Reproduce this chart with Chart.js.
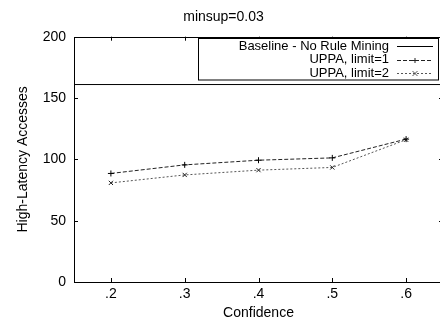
<!DOCTYPE html>
<html>
<head>
<meta charset="utf-8">
<script src="https://cdn.jsdelivr.net/npm/chart.js@4.4.1/dist/chart.umd.min.js"></script>
<style>
    html, body { margin: 0; padding: 0; background: #fff; overflow: hidden; }
    #wrap { width: 448px; height: 322px; }
</style>
</head>
<body>
<div id="wrap"><canvas id="chart" width="448" height="322"></canvas></div>
<script>
// data
const confidence = [0.2, 0.3, 0.4, 0.5, 0.6];
const xTickLabels = ['.2', '.3', '.4', '.5', '.6'];
const yTicks = [0, 50, 100, 150, 200];
const baselineValue = 161;
const limit1 = [88.5, 95.5, 99.3, 101.2, 116.5];
const limit2 = [80.8, 87.3, 91.2, 93.4, 116];

const xMin = 0.15, xMax = 0.65;
const FONT = "'Liberation Sans', Arial, sans-serif";

function pts(ys) {
    return confidence.map((c, i) => ({ x: c, y: ys[i] }));
}

// gnuplot-like frame, inward ticks and key box
const frame = {
    id: 'frame',
    afterDatasetsDraw(chart) {
        const ctx = chart.ctx;
        const a = chart.chartArea;
        const xs = chart.scales.x, ys = chart.scales.y;
        ctx.save();
        ctx.strokeStyle = '#000';
        ctx.lineWidth = 1;
        ctx.beginPath();
        ctx.rect(Math.round(a.left) + 0.5, Math.round(a.top) + 0.5, Math.round(a.right - a.left), Math.round(a.bottom - a.top));
        ctx.stroke();

        ctx.beginPath();
        confidence.forEach(v => {
            const px = Math.round(xs.getPixelForValue(v)) + 0.5;
            ctx.moveTo(px, a.bottom); ctx.lineTo(px, a.bottom - 4);
            ctx.moveTo(px, a.top); ctx.lineTo(px, a.top + 4);
        });
        yTicks.forEach(v => {
            const py = Math.round(ys.getPixelForValue(v)) + 0.5;
            ctx.moveTo(a.left, py); ctx.lineTo(a.left + 4, py);
            ctx.moveTo(a.right, py); ctx.lineTo(a.right - 4, py);
        });
        ctx.stroke();

        // key
        const bx = 198.5, by = 38.5, bw = 240, bh = 41.5;
        ctx.fillStyle = '#fff';
        ctx.fillRect(bx, by, bw, bh);
        ctx.strokeRect(bx, by, bw, bh);
        ctx.font = '13px ' + FONT;
        ctx.textAlign = 'right';
        ctx.textBaseline = 'middle';
        chart.data.datasets.forEach((ds, i) => {
            const y = 46 + i * 13.7;
            ctx.fillStyle = '#000';
            ctx.fillText(ds.label, 389, y);
            ctx.strokeStyle = ds.borderColor;
            ctx.setLineDash(ds.borderDash || []);
            ctx.beginPath();
            ctx.moveTo(397, Math.round(y) + 0.5);
            ctx.lineTo(433, Math.round(y) + 0.5);
            ctx.stroke();
            ctx.setLineDash([]);
            if (ds.pointRadius > 0) {
                const cx = 415, cy = Math.round(y) + 0.5, r = 2.5;
                ctx.beginPath();
                if (ds.pointStyle === 'cross') {
                    ctx.moveTo(cx - r, cy); ctx.lineTo(cx + r, cy);
                    ctx.moveTo(cx, cy - r); ctx.lineTo(cx, cy + r);
                } else {
                    ctx.moveTo(cx - r, cy - r); ctx.lineTo(cx + r, cy + r);
                    ctx.moveTo(cx - r, cy + r); ctx.lineTo(cx + r, cy - r);
                }
                ctx.stroke();
            }
        });
        ctx.restore();
    }
};

new Chart(document.getElementById('chart').getContext('2d'), {
    type: 'line',
    data: {
        datasets: [
            {
                label: 'Baseline - No Rule Mining',
                data: [{ x: xMin, y: baselineValue }, { x: xMax, y: baselineValue }],
                borderColor: '#000',
                borderWidth: 1,
                pointRadius: 0
            },
            {
                label: 'UPPA, limit=1',
                data: pts(limit1),
                borderColor: '#222',
                borderWidth: 1,
                borderDash: [4, 2],
                pointStyle: 'cross',
                pointRadius: 3,
                pointBorderColor: '#000',
                pointBorderWidth: 1
            },
            {
                label: 'UPPA, limit=2',
                data: pts(limit2),
                borderColor: '#555',
                borderWidth: 1,
                borderDash: [2, 2],
                pointStyle: 'crossRot',
                pointRadius: 3,
                pointBorderColor: '#222',
                pointBorderWidth: 1
            }
        ]
    },
    plugins: [frame],
    options: {
        responsive: false,
        animation: false,
        layout: { padding: { left: 0, right: 1, top: 0, bottom: 0 } },
        plugins: {
            legend: { display: false },
            tooltip: { enabled: false },
            title: {
                display: true,
                text: 'minsup=0.03',
                color: '#000',
                font: { family: FONT, size: 14, weight: 'normal' },
                padding: { top: 9, bottom: 10.9 }
            }
        },
        scales: {
            x: {
                type: 'linear',
                min: xMin,
                max: xMax,
                grid: { display: false, drawTicks: false },
                border: { display: false },
                afterBuildTicks: s => { s.ticks = confidence.map(v => ({ value: v })); },
                afterFit: s => { s.height = 40; },
                ticks: {
                    color: '#000',
                    padding: 3.5,
                    font: { family: FONT, size: 14 },
                    callback: (v, i) => xTickLabels[i]
                },
                title: {
                    display: true,
                    text: 'Confidence',
                    color: '#000',
                    font: { family: FONT, size: 14 },
                    padding: { top: 0, bottom: 0 }
                }
            },
            y: {
                min: 0,
                max: 200,
                grid: { display: false, drawTicks: false },
                border: { display: false },
                afterBuildTicks: s => { s.ticks = yTicks.map(v => ({ value: v })); },
                afterFit: s => { s.width = 74; },
                ticks: {
                    color: '#000',
                    padding: 8,
                    font: { family: FONT, size: 14 }
                },
                title: {
                    display: true,
                    text: 'High-Latency Accesses',
                    color: '#000',
                    font: { family: FONT, size: 14 },
                    padding: { top: 15, bottom: 0 }
                }
            }
        }
    }
});
</script>
</body>
</html>
